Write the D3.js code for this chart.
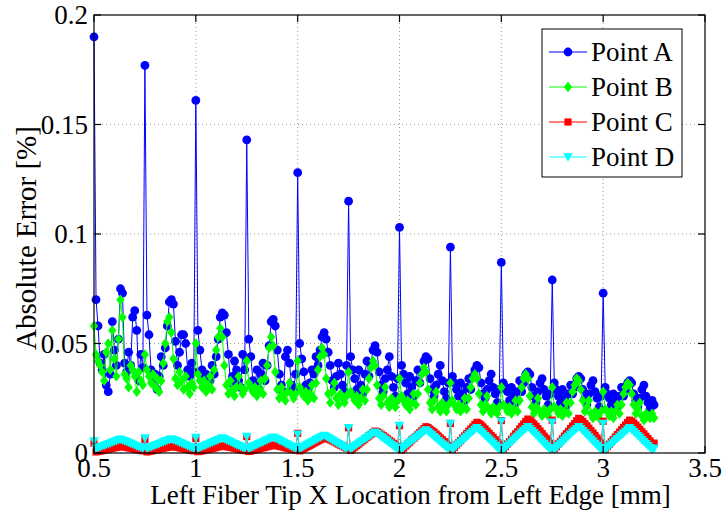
<!DOCTYPE html>
<html lang="en">
<head>
    <meta charset="UTF-8">
    <title>Absolute Error vs Left Fiber Tip X Location</title>
    <script src="https://d3js.org/d3.v7.min.js"></script>
    <style>
        body { margin: 0; background: #fff; }
        svg text { font-family: "Liberation Serif", "Times New Roman", serif; fill: #000; }
        .grid line { stroke: #999; stroke-dasharray: 1,3; }
    </style>
</head>
<body>
    <svg width="725" height="518"></svg>

    <script>
        // x grid: first location and step [mm]
        const xStart = 0.5;
        const xStep = 0.01;

        // Point A (blue circles), one row per 0.25 mm
        const pointA = [
            .190,.070,.058,.041,.038,.045,.031,.028,.036,.060,.047,.040,.052,.075,.073,.041,.037,.046,.040,.062,.065,.056,.033,.045,.039,
            .177,.063,.054,.038,.033,.036,.029,.035,.044,.040,.048,.058,.069,.070,.068,.051,.040,.046,.054,.054,.050,.038,.035,.041,.037,
            .161,.056,.047,.038,.034,.036,.030,.033,.040,.036,.044,.052,.062,.064,.063,.055,.045,.032,.035,.042,.038,.033,.030,.045,.038,
            .143,.052,.044,.033,.031,.038,.029,.036,.041,.033,.040,.049,.060,.061,.058,.047,.036,.031,.028,.044,.047,.041,.031,.029,.036,
            .128,.050,.043,.037,.031,.029,.032,.038,.036,.044,.040,.047,.053,.055,.052,.046,.040,.033,.030,.035,.041,.036,.031,.028,.040,
            .115,.044,.038,.034,.029,.038,.031,.027,.036,.042,.035,.041,.047,.049,.046,.037,.031,.028,.034,.038,.044,.035,.030,.026,.034,
            .103,.040,.036,.032,.027,.035,.030,.026,.033,.038,.032,.037,.042,.044,.043,.034,.029,.026,.031,.036,.040,.033,.028,.025,.032,
            .094,.035,.032,.029,.026,.032,.027,.024,.030,.034,.029,.035,.038,.040,.039,.032,.027,.025,.029,.033,.036,.030,.027,.023,.029,
            .087,.032,.030,.028,.024,.030,.026,.023,.028,.033,.028,.032,.036,.037,.036,.030,.026,.023,.028,.032,.034,.029,.026,.022,.027,
            .079,.032,.029,.026,.023,.029,.025,.022,.027,.031,.027,.030,.034,.035,.034,.029,.025,.022,.027,.031,.033,.028,.025,.021,.026,
            .073,.030,.027,.025,.022,.027,.024,.021,.026,.030,.026,.029,.032,.033,.032,.027,.024,.021,.025,.029,.031,.026,.023,.020,.024,
            .022
        ];

        // Point B (green diamonds)
        const pointB = [
            .058,.045,.042,.040,.037,.033,.046,.050,.038,.056,.043,.035,.052,.070,.062,.036,.034,.030,.040,.038,.035,.028,.037,.033,.031,
            .045,.038,.035,.032,.036,.030,.034,.028,.033,.041,.050,.060,.062,.055,.043,.034,.031,.037,.033,.029,.035,.030,.027,.032,.030,
            .050,.036,.033,.030,.033,.028,.031,.035,.029,.038,.047,.053,.057,.053,.040,.031,.027,.033,.029,.026,.030,.035,.030,.027,.029,
            .042,.032,.030,.028,.030,.026,.029,.033,.027,.034,.040,.048,.053,.049,.037,.029,.025,.030,.027,.024,.028,.032,.027,.025,.027,
            .042,.030,.028,.026,.028,.024,.027,.031,.025,.032,.038,.044,.048,.045,.034,.027,.023,.028,.032,.025,.022,.027,.025,.023,.026,
            .037,.028,.026,.024,.026,.022,.025,.029,.024,.029,.034,.039,.042,.040,.031,.025,.022,.026,.030,.023,.021,.025,.023,.021,.024,
            .034,.026,.024,.022,.024,.020,.023,.027,.022,.027,.032,.036,.039,.037,.029,.023,.020,.024,.028,.021,.019,.023,.021,.019,.022,
            .032,.024,.022,.020,.022,.019,.021,.025,.020,.025,.030,.034,.036,.034,.027,.022,.019,.022,.026,.020,.018,.021,.020,.018,.021,
            .030,.022,.021,.019,.021,.018,.020,.024,.019,.024,.030,.034,.036,.034,.026,.021,.018,.021,.025,.019,.017,.020,.019,.017,.020,
            .030,.021,.020,.018,.020,.017,.019,.023,.018,.023,.028,.031,.034,.033,.029,.024,.019,.021,.024,.018,.016,.019,.018,.016,.019,
            .028,.020,.019,.017,.019,.016,.019,.022,.018,.022,.027,.030,.032,.031,.027,.022,.018,.020,.023,.017,.015,.018,.017,.016,.018,
            .016
        ];

        // Point C (red squares)
        const pointC = [
            .0045,.0005,.0007,.0009,.0011,.0013,.0016,.0018,.0020,.0022,.0024,.0026,.0028,.0030,.0029,.0028,.0026,.0024,.0022,.0020,.0018,.0016,.0014,.0012,.0010,
            .0062,.0005,.0007,.0009,.0011,.0013,.0016,.0018,.0020,.0022,.0024,.0026,.0028,.0030,.0029,.0028,.0026,.0024,.0022,.0020,.0018,.0016,.0014,.0012,.0010,
            .0066,.0006,.0008,.0010,.0013,.0015,.0017,.0019,.0021,.0023,.0026,.0028,.0030,.0032,.0031,.0029,.0028,.0026,.0024,.0022,.0020,.0017,.0015,.0013,.0011,
            .0075,.0007,.0009,.0012,.0014,.0017,.0019,.0022,.0024,.0026,.0029,.0031,.0034,.0036,.0035,.0033,.0031,.0029,.0027,.0024,.0022,.0020,.0017,.0015,.0013,
            .0090,.0010,.0015,.0020,.0025,.0030,.0035,.0040,.0045,.0050,.0055,.0060,.0065,.0070,.0068,.0064,.0060,.0056,.0051,.0046,.0041,.0036,.0032,.0027,.0022,
            .0115,.0012,.0019,.0027,.0034,.0041,.0049,.0056,.0063,.0071,.0078,.0085,.0093,.0100,.0097,.0091,.0085,.0079,.0072,.0065,.0058,.0051,.0044,.0037,.0030,
            .0125,.0014,.0022,.0032,.0041,.0049,.0059,.0067,.0075,.0085,.0094,.0102,.0112,.0120,.0116,.0109,.0102,.0095,.0086,.0078,.0069,.0061,.0052,.0044,.0035,
            .0135,.0016,.0026,.0037,.0047,.0057,.0068,.0078,.0088,.0099,.0109,.0119,.0130,.0140,.0135,.0128,.0119,.0110,.0100,.0090,.0080,.0071,.0061,.0051,.0041,
            .0148,.0018,.0029,.0041,.0052,.0063,.0076,.0087,.0097,.0110,.0121,.0132,.0144,.0155,.0150,.0141,.0132,.0122,.0111,.0100,.0089,.0077,.0067,.0056,.0045,
            .0150,.0018,.0029,.0042,.0053,.0064,.0077,.0088,.0099,.0112,.0123,.0134,.0147,.0158,.0152,.0144,.0134,.0124,.0113,.0102,.0091,.0080,.0068,.0057,.0046,
            .0145,.0018,.0029,.0040,.0051,.0062,.0073,.0084,.0095,.0106,.0117,.0128,.0139,.0150,.0145,.0137,.0128,.0118,.0108,.0097,.0087,.0076,.0066,.0055,.0044,
            .0045
        ];

        // Point D (cyan triangles)
        const pointD = [
            .0055,.0020,.0023,.0027,.0031,.0034,.0038,.0041,.0044,.0048,.0052,.0055,.0059,.0062,.0058,.0054,.0051,.0047,.0043,.0039,.0035,.0031,.0028,.0024,.0021,
            .0068,.0020,.0024,.0027,.0031,.0035,.0038,.0042,.0046,.0049,.0053,.0057,.0060,.0064,.0060,.0056,.0052,.0048,.0044,.0040,.0036,.0032,.0028,.0024,.0021,
            .0070,.0020,.0024,.0028,.0032,.0036,.0040,.0044,.0048,.0052,.0056,.0060,.0064,.0068,.0064,.0059,.0055,.0051,.0046,.0042,.0037,.0033,.0029,.0024,.0021,
            .0075,.0020,.0024,.0029,.0033,.0037,.0042,.0046,.0050,.0055,.0059,.0063,.0068,.0072,.0067,.0063,.0058,.0053,.0049,.0043,.0039,.0034,.0029,.0025,.0021,
            .0085,.0020,.0025,.0030,.0035,.0040,.0045,.0050,.0055,.0060,.0065,.0070,.0075,.0080,.0075,.0069,.0064,.0058,.0053,.0047,.0042,.0036,.0031,.0025,.0021,
            .0115,.0018,.0024,.0031,.0037,.0044,.0050,.0057,.0063,.0069,.0076,.0082,.0089,.0095,.0088,.0081,.0074,.0067,.0060,.0053,.0046,.0039,.0032,.0025,.0020,
            .0125,.0018,.0025,.0033,.0040,.0047,.0054,.0062,.0069,.0076,.0083,.0090,.0098,.0105,.0097,.0089,.0082,.0074,.0066,.0057,.0049,.0041,.0034,.0026,.0020,
            .0135,.0016,.0024,.0033,.0041,.0049,.0057,.0066,.0074,.0082,.0090,.0098,.0107,.0115,.0106,.0097,.0088,.0079,.0070,.0061,.0052,.0043,.0034,.0025,.0018,
            .0145,.0015,.0024,.0033,.0041,.0050,.0059,.0068,.0076,.0085,.0094,.0102,.0111,.0120,.0111,.0101,.0092,.0082,.0073,.0062,.0053,.0043,.0034,.0024,.0017,
            .0140,.0015,.0024,.0033,.0041,.0050,.0059,.0068,.0076,.0085,.0094,.0102,.0111,.0120,.0111,.0101,.0092,.0082,.0073,.0062,.0053,.0043,.0034,.0024,.0017,
            .0135,.0015,.0023,.0032,.0040,.0048,.0057,.0065,.0073,.0082,.0090,.0098,.0107,.0115,.0106,.0097,.0088,.0079,.0070,.0060,.0051,.0042,.0033,.0024,.0017,
            .0020
        ];

        const xTicks = [0.5, 1, 1.5, 2, 2.5, 3, 3.5];
        const yTicks = [0, 0.05, 0.1, 0.15, 0.2];
        const xTickLabels = ["0.5", "1", "1.5", "2", "2.5", "3", "3.5"];
        const yTickLabels = ["0", "0.05", "0.1", "0.15", "0.2"];

        // marker outlines (MATLAB-like sizes)
        const markers = {
            circle: "M4.4,0A4.4,4.4 0 1,1 -4.4,0A4.4,4.4 0 1,1 4.4,0Z",
            diamond: "M0,-5.2L4.2,0L0,5.2L-4.2,0Z",
            square: "M-3.6,-3.6H3.6V3.6H-3.6Z",
            triDown: "M-4.8,-3.8L4.8,-3.8L0,4.6Z"
        };

        const series = [
            {name: "Point A", values: pointA, color: "#0000ff", marker: "circle"},
            {name: "Point B", values: pointB, color: "#00ff00", marker: "diamond"},
            {name: "Point C", values: pointC, color: "#ff0000", marker: "square"},
            {name: "Point D", values: pointD, color: "#00ffff", marker: "triDown"}
        ];

        const margin = {top: 15, right: 20, bottom: 65, left: 94},
              width = 725 - margin.left - margin.right,
              height = 518 - margin.top - margin.bottom;

        const svg = d3.select("svg")
            .append("g")
            .attr("transform", "translate(" + margin.left + "," + margin.top + ")");

        const x = d3.scaleLinear().domain([0.5, 3.5]).range([0, width]);
        const y = d3.scaleLinear().domain([0, 0.2]).range([height, 0]);

        const fontSize = "27px";

        // dotted grid
        svg.append("g").attr("class", "grid")
            .selectAll("line")
            .data(xTicks.slice(1, -1))
            .join("line")
            .attr("x1", d => x(d)).attr("x2", d => x(d))
            .attr("y1", 0).attr("y2", height);

        svg.append("g").attr("class", "grid")
            .selectAll("line")
            .data(yTicks.slice(1, -1))
            .join("line")
            .attr("x1", 0).attr("x2", width)
            .attr("y1", d => y(d)).attr("y2", d => y(d));

        // data lines + markers
        const line = d3.line()
            .x((d, i) => x(xStart + i * xStep))
            .y(d => y(d));

        series.forEach(s => {
            const g = svg.append("g");
            g.append("path")
                .datum(s.values)
                .attr("fill", "none")
                .attr("stroke", s.color)
                .attr("stroke-width", 1)
                .attr("d", line);
            g.selectAll("path.mk")
                .data(s.values)
                .join("path")
                .attr("class", "mk")
                .attr("transform", (d, i) => "translate(" + x(xStart + i * xStep) + "," + y(d) + ")")
                .attr("d", markers[s.marker])
                .attr("fill", s.color);
        });

        // axes box with inward ticks on all sides
        const tickLen = 7;
        const box = svg.append("g").attr("stroke", "#000").attr("stroke-width", 1.2);
        box.append("rect")
            .attr("width", width).attr("height", height)
            .attr("fill", "none");
        xTicks.forEach(t => {
            box.append("line").attr("x1", x(t)).attr("x2", x(t)).attr("y1", height).attr("y2", height - tickLen);
            box.append("line").attr("x1", x(t)).attr("x2", x(t)).attr("y1", 0).attr("y2", tickLen);
        });
        yTicks.forEach(t => {
            box.append("line").attr("x1", 0).attr("x2", tickLen).attr("y1", y(t)).attr("y2", y(t));
            box.append("line").attr("x1", width).attr("x2", width - tickLen).attr("y1", y(t)).attr("y2", y(t));
        });

        // tick labels
        svg.append("g").selectAll("text")
            .data(xTicks)
            .join("text")
            .attr("x", d => x(d))
            .attr("y", height + 24)
            .attr("text-anchor", "middle")
            .style("font-size", fontSize)
            .text((d, i) => xTickLabels[i]);

        svg.append("g").selectAll("text")
            .data(yTicks)
            .join("text")
            .attr("x", -6)
            .attr("y", d => y(d) + 9)
            .attr("text-anchor", "end")
            .style("font-size", fontSize)
            .text((d, i) => yTickLabels[i]);

        // axis titles
        svg.append("text")
            .attr("x", width / 2 + 11)
            .attr("y", height + 51)
            .attr("text-anchor", "middle")
            .style("font-size", fontSize)
            .text("Left Fiber Tip X Location from Left Edge [mm]");

        svg.append("text")
            .attr("transform", "translate(" + (-58) + "," + (height / 2 + 4) + ") rotate(-90)")
            .attr("text-anchor", "middle")
            .style("font-size", "29px")
            .text("Absolute Error [%]");

        // legend
        const legend = svg.append("g").attr("transform", "translate(448,14)");
        legend.append("rect")
            .attr("width", 140).attr("height", 148)
            .attr("fill", "#fff").attr("stroke", "#000").attr("stroke-width", 1);
        series.forEach((s, i) => {
            const ly = 23 + i * 35;
            legend.append("line")
                .attr("x1", 7).attr("x2", 45).attr("y1", ly).attr("y2", ly)
                .attr("stroke", s.color).attr("stroke-width", 1);
            legend.append("path")
                .attr("transform", "translate(26," + ly + ")")
                .attr("d", markers[s.marker])
                .attr("fill", s.color);
            legend.append("text")
                .attr("x", 49).attr("y", ly + 9)
                .style("font-size", fontSize)
                .text(s.name);
        });
    </script>
</body>
</html>
